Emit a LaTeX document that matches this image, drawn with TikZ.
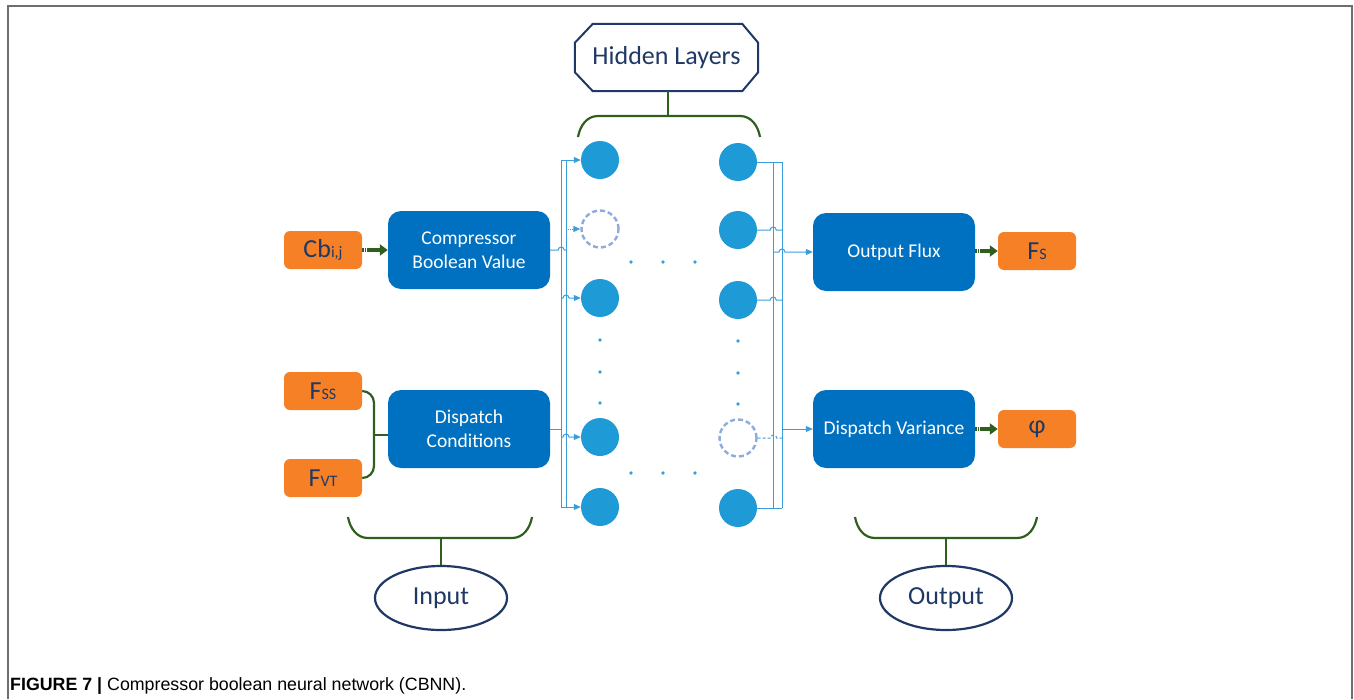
\documentclass[tikz,border=0pt]{standalone}
\usepackage{fontspec}
\setmainfont{Carlito}
\newfontfamily\capfont{Liberation Sans}
\usetikzlibrary{arrows.meta,calc,shapes.geometric}

\definecolor{boxblue}{HTML}{0070C0}
\definecolor{cellblue}{HTML}{1E9AD6}
\definecolor{wireblue}{HTML}{3A9DDB}
\definecolor{ghostblue}{HTML}{8FAADC}
\definecolor{tagorange}{HTML}{F58026}
\definecolor{inknavy}{HTML}{1F3864}
\definecolor{leafgreen}{HTML}{2F5E1F}
\definecolor{framegray}{HTML}{6E6E6E}

\tikzset{
  blk/.style={fill=boxblue, rounded corners=13pt, minimum width=162pt, minimum height=78pt,
    text=white, align=center, inner sep=0pt, font=\fontsize{19.5}{24}\selectfont},
  tag/.style={fill=tagorange, rounded corners=6pt, minimum width=78pt, minimum height=38pt,
    text=inknavy, inner sep=0pt, font=\fontsize{26}{28}\selectfont},
  neuron/.style={circle, fill=cellblue, minimum size=38pt, inner sep=0pt},
  ghost/.style={circle, draw=ghostblue, line width=2.4pt, dash pattern=on 5pt off 3pt,
    minimum size=37pt, inner sep=0pt},
  wire/.style={draw=wireblue, line width=1pt},
  wtip/.style={-{Triangle[length=7pt,width=6pt]}},
  thick arrow/.style={draw=leafgreen, line width=4.5pt,
    dash pattern=on 1.5pt off 1pt on 1.5pt off 1pt on 60pt,
    -{Triangle[length=8pt,width=11pt]}},
  brace/.style={draw=leafgreen, line width=2.2pt},
  label oval/.style={ellipse, draw=inknavy, line width=2.2pt, minimum width=132pt,
    minimum height=64pt, text=inknavy, font=\fontsize{26}{28}\selectfont},
  dot/.style={fill=wireblue},
}

\newcommand{\hopover}{arc[start angle=180,end angle=0,radius=3pt]}
\newcommand{\smallidx}[1]{{\fontsize{16}{18}\selectfont #1}}

\begin{document}
\begin{tikzpicture}[x=1pt,y=-1pt]
\useasboundingbox (0,0) rectangle (1354,699);

% outer frame, open at the bottom
\draw[framegray, line width=1.5pt] (8,699) -- (8,6) -- (1352,6) -- (1352,699);

% ---------- hidden layer title ----------
\node[minimum width=183pt, minimum height=67pt, inner sep=0pt, text=inknavy,
      font=\fontsize{26}{28}\selectfont] (hl) at (666.5,57.5) {Hidden Layers};
\draw[inknavy, line width=2pt]
  ([xshift=18pt]hl.north west) -- ([xshift=-16pt]hl.north east)
  -- ([yshift=-19pt]hl.north east) -- ([yshift=19pt]hl.south east)
  -- ([xshift=-16pt]hl.south east) -- ([xshift=18pt]hl.south west)
  -- ([yshift=19pt]hl.south west) -- ([yshift=-19pt]hl.north west) -- cycle;
\coordinate (hlbr) at (668,116);
\draw[brace] (hl.south -| hlbr) -- (hlbr);
\draw[brace] (578,137) to[out=80,in=180] (598,116) -- (740,116) to[out=0,in=100] (760,137);

% ---------- blocks ----------
\node[blk] (cbv) at (469,250) {Compressor\\Boolean Value};
\node[blk] (dc)  at (469,429) {Dispatch\\Conditions};
\node[blk] (of)  at (894,252) {Output Flux};
\node[blk] (dv)  at (894,429) {Dispatch Variance};

% ---------- input / output tags ----------
\node[tag] (cb)  at (323,250) {Cb\smallidx{i,j}};
\node[tag] (fss) at (323,391) {F\smallidx{SS}};
\node[tag] (fvt) at (323,478) {F\smallidx{VT}};
\node[tag] (fs)  at (1037,251) {F\smallidx{S}};
\node[tag] (phi) at (1037,429) {φ};

\draw[thick arrow] (cb.east) -- (cbv.west);
\draw[thick arrow] (of.east |- fs.west) -- (fs.west);
\draw[thick arrow] (dv.east) -- (phi.west);

% brace joining the two dispatch inputs
\coordinate (brc) at (374,435);
\draw[brace] (fss.east) to[out=0,in=90] (374,403) -- (374,466) to[out=-90,in=0] (fvt.east);
\draw[brace] (brc) -- (dc.west |- brc);

% ---------- neurons ----------
\node[neuron] (l1) at (600,160) {};
\node[ghost]  (l2) at (600,229) {};
\node[neuron] (l3) at (600,298) {};
\node[neuron] (l4) at (600,437) {};
\node[neuron] (l5) at (600,507) {};
\node[neuron] (r1) at (738,162) {};
\node[neuron] (r2) at (738,230) {};
\node[neuron] (r3) at (738,300) {};
\node[ghost]  (r4) at (738,438) {};
\node[neuron] (r5) at (738,508) {};

% ellipsis dots
\foreach \y in {340,372,403} {\fill[dot] (600,\y) circle (1.8pt); \fill[dot] (738,\y+1) circle (1.8pt);}
\foreach \x in {631,663,695} {\fill[dot] (\x,262) circle (1.8pt); \fill[dot] (\x,473) circle (1.8pt);}

% ---------- input-side wiring ----------
\coordinate (ba) at (561,0);
\coordinate (bb) at (566,0);
\draw[wire] (ba |- l1) -- (ba |- l5);
\draw[wire] (bb |- l1) -- (bb |- l5);
\draw[wire] (cbv.east) -- ++(8,0) \hopover -- (bb |- cbv.east);
\draw[wire] (dc.east) -- (ba |- dc.east);
\draw[wire, wtip] (ba |- l1) -- (l1.west);
\draw[wire, wtip, densely dotted] (bb |- l2) -- (l2.west);
\draw[wire, wtip] (ba |- l3) -- ++(2,0) \hopover -- (l3.west);
\draw[wire, wtip] (ba |- l4) -- ++(2,0) \hopover -- (l4.west);
\draw[wire, wtip] (ba |- l5) -- (l5.west);

% ---------- output-side wiring ----------
\coordinate (bc) at (773,0);
\coordinate (bd) at (782,0);
\draw[wire] (bc |- r1) -- (bc |- r5);
\draw[wire] (bd |- r1) -- (bd |- r5);
\draw[wire] (r1.east) -- (bd |- r1);
\draw[wire] (r2.east) -- ++(13,0) \hopover -- (bd |- r2);
\draw[wire] (r3.east) -- ++(13,0) \hopover -- (bd |- r3);
\draw[wire, densely dashed] (r4.east) -- ++(13,0) \hopover -- (bd |- r4);
\draw[wire] (r5.east) -- (bd |- r5);
\draw[wire, wtip] (bc |- of.west) -- ++(6,0) \hopover -- (of.west);
\draw[wire, wtip] (bd |- dv.west) -- (dv.west);

% ---------- input / output groups ----------
\node[label oval] (inp) at (441,598) {Input};
\coordinate (inbr) at (441,538);
\draw[brace] (348,517) to[out=-80,in=180] (368,538) -- (512,538) to[out=0,in=-100] (532,517);
\draw[brace] (inbr) -- (inp.north);

\node[label oval] (outp) at (946,598) {Output};
\coordinate (outbr) at (946,538);
\draw[brace] (855,517) to[out=-80,in=180] (875,538) -- (1017,538) to[out=0,in=-100] (1037,517);
\draw[brace] (outbr) -- (outp.north);

% ---------- caption ----------
\node[anchor=base west, inner sep=0pt, font=\capfont\fontsize{17.8}{20}\selectfont] (cap) at (10,690)
  {\textbf{FIGURE 7 |} Compressor boolean neural network (CBNN).};
\end{tikzpicture}
\end{document}
